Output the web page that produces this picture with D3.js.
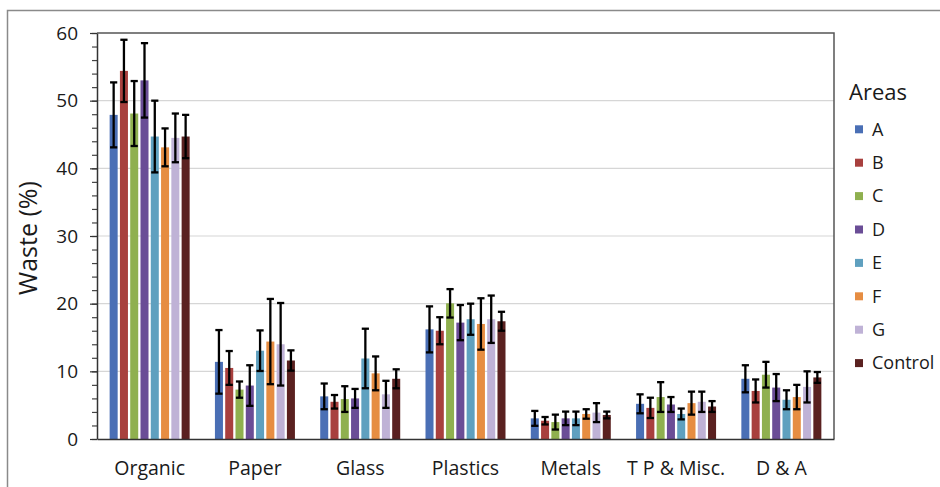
<!DOCTYPE html>
<html><head><meta charset="utf-8">
<script src="https://cdn.jsdelivr.net/npm/d3@7"></script>
<style>body{margin:0;background:#fff;} svg{display:block;}</style>
</head><body>
<svg id="chart" width="940" height="487"></svg>
<script>
const categories = ["Organic","Paper","Glass","Plastics","Metals","T P & Misc.","D & A"];
const seriesNames = ["A","B","C","D","E","F","G","Control"];
const colors = ["#4a6fb5","#a8403e","#8fb04f","#6a4d96","#5fa0bf","#e68d42","#bfb2d6","#5a2120"];
// values per series, ordered by category
const valA = [47.9, 11.4, 6.3, 16.2, 3.05, 5.2, 8.9];
const valB = [54.4, 10.5, 5.5, 16.0, 2.7, 4.6, 7.1];
const valC = [48.1, 7.3, 5.9, 20.05, 2.5, 6.2, 9.5];
const valD = [53.0, 7.9, 6.0, 17.2, 3.05, 5.1, 7.6];
const valE = [44.7, 13.05, 11.9, 17.7, 3.05, 3.7, 5.8];
const valF = [43.1, 14.4, 9.7, 17.0, 3.7, 5.3, 6.2];
const valG = [44.5, 14.0, 6.6, 17.7, 3.9, 5.5, 7.7];
const valControl = [44.7, 11.6, 8.9, 17.4, 3.55, 4.8, 9.1];
// error (±) per series, ordered by category
const errA = [4.8, 4.7, 1.9, 3.4, 1.1, 1.4, 2.0];
const errB = [4.6, 2.5, 1.0, 2.0, 0.55, 1.5, 1.7];
const errC = [4.8, 1.2, 1.9, 2.1, 1.1, 2.2, 1.9];
const errD = [5.5, 3.0, 1.4, 2.6, 1.0, 1.1, 2.0];
const errE = [5.3, 3.0, 4.4, 2.3, 1.0, 0.8, 1.4];
const errF = [2.8, 6.3, 2.5, 3.8, 0.7, 1.7, 1.8];
const errG = [3.6, 6.1, 2.0, 3.5, 1.4, 1.5, 2.3];
const errControl = [3.2, 1.5, 1.4, 1.4, 0.5, 0.8, 0.8];
const yTicks = [0,10,20,30,40,50,60];
const yTitle = "Waste (%)";
const legendTitle = "Areas";

const values = [valA,valB,valC,valD,valE,valF,valG,valControl];
const errors = [errA,errB,errC,errD,errE,errF,errG,errControl];
const data = [];
categories.forEach((c,ci)=>seriesNames.forEach((s,si)=>data.push({cat:c,ser:s,si:si,v:values[si][ci],e:errors[si][ci]})));

const svg = d3.select("#chart");
const font = "'Open Sans', sans-serif";
const L=97, R=834, T=33, B=439;

// outer frame
svg.append("path").attr("d","M7.5,487 V10.5 H940").attr("fill","none").attr("stroke","#8a8a8a").attr("stroke-width",1.5);

const x0 = d3.scaleBand().domain(categories).range([L,R]).padding(0);
const half = 40;
const x1 = d3.scaleBand().domain(seriesNames).range([x0.bandwidth()/2-half, x0.bandwidth()/2+half]).paddingInner(0.22).paddingOuter(0);
const y = d3.scaleLinear().domain([0,60]).range([B,T]);
const color = d3.scaleOrdinal().domain(seriesNames).range(colors);

// gridlines
svg.append("g").selectAll("line").data(yTicks.filter(t=>t>0&&t<60)).join("line")
  .attr("x1",L).attr("x2",R).attr("y1",d=>y(d)).attr("y2",d=>y(d))
  .attr("stroke","#d6d6d6").attr("stroke-width",1.2);

// bars
svg.append("g").selectAll("rect").data(data).join("rect")
  .attr("x",d=>x0(d.cat)+x1(d.ser)).attr("width",x1.bandwidth())
  .attr("y",d=>y(d.v)).attr("height",d=>y(0)-y(d.v))
  .attr("fill",d=>color(d.ser));

// error bars
const eg = svg.append("g").attr("stroke","#000").attr("stroke-width",2.3);
const capW = 3.6;
data.forEach(d=>{
  const cx = x0(d.cat)+x1(d.ser)+x1.bandwidth()/2;
  eg.append("line").attr("x1",cx).attr("x2",cx).attr("y1",y(d.v+d.e)).attr("y2",y(d.v-d.e));
  eg.append("line").attr("x1",cx-capW).attr("x2",cx+capW).attr("y1",y(d.v+d.e)).attr("y2",y(d.v+d.e));
  eg.append("line").attr("x1",cx-capW).attr("x2",cx+capW).attr("y1",y(d.v-d.e)).attr("y2",y(d.v-d.e));
});

// plot frame (top, right)
svg.append("path").attr("d",`M${L},${T} H${R} V${B}`).attr("fill","none").attr("stroke","#555").attr("stroke-width",1.5);

// y axis minor ticks
svg.append("g").attr("transform",`translate(${L},0)`)
  .call(d3.axisLeft(y).tickValues(d3.range(0,61,2)).tickSize(5).tickFormat(""))
  .call(g=>g.select(".domain").remove())
  .call(g=>g.selectAll("line").attr("stroke","#444").attr("stroke-width",1.2));
// y axis major
svg.append("g").attr("transform",`translate(${L},0)`)
  .call(d3.axisLeft(y).tickValues(yTicks).tickSize(7).tickSizeOuter(0).tickPadding(12))
  .call(g=>g.select(".domain").attr("stroke","#333").attr("stroke-width",1.5))
  .call(g=>g.selectAll("line").attr("stroke","#333").attr("stroke-width",1.2))
  .call(g=>g.selectAll("text").attr("font-family",font).attr("font-size",19).attr("fill","#1a1a1a"));

// x axis
svg.append("g").attr("transform",`translate(0,${B})`)
  .call(d3.axisBottom(x0).tickSize(0).tickPadding(22))
  .call(g=>g.select(".domain").attr("stroke","#333").attr("stroke-width",1.5))
  .call(g=>g.selectAll("text").attr("font-family",font).attr("font-size",19.5).attr("fill","#1a1a1a"));

// y title
svg.append("text").attr("transform","translate(37,238) rotate(-90)").attr("text-anchor","middle")
  .attr("font-family",font).attr("font-size",25).attr("fill","#1a1a1a").text(yTitle);

// legend
svg.append("text").attr("x",849).attr("y",100).attr("font-family",font).attr("font-size",22).attr("fill","#1a1a1a").text(legendTitle);
const lg = svg.append("g").selectAll("g").data(seriesNames).join("g")
  .attr("transform",(d,i)=>`translate(855,${129.3+i*33.4})`);
lg.append("rect").attr("x",0).attr("y",-4).attr("width",8).attr("height",8).attr("fill",d=>color(d));
lg.append("text").attr("x",17).attr("y",0).attr("dy","0.35em").attr("font-family",font).attr("font-size",18).attr("fill","#1a1a1a").text(d=>d);
</script>
</body></html>
